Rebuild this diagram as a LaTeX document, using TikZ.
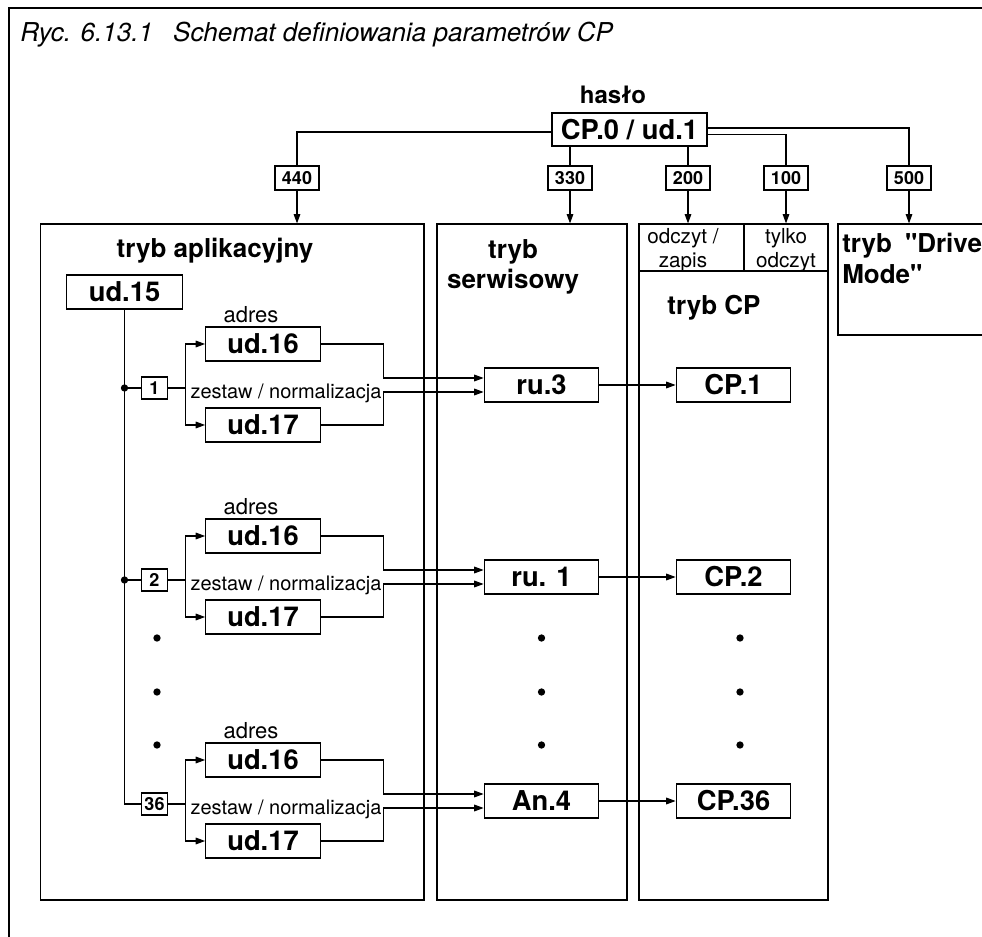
\documentclass[tikz,border=0pt]{standalone}
\usepackage{fontspec}
\setmainfont{TeX Gyre Heros}[Ligatures=TeXOff]
\usetikzlibrary{arrows.meta}

\begin{document}
\begin{tikzpicture}[x=0.75pt, y=-0.75pt,
  wire/.style={line width=0.8pt},
  arr/.style={wire, -{Triangle[length=7pt,width=5pt]}},
  modebox/.style={draw, line width=0.9pt, inner sep=0, minimum height=507pt},
  pbox/.style={draw, line width=0.9pt, fill=white, inner sep=0, minimum width=86pt,
               minimum height=25.5pt, font=\bfseries\fontsize{20.5}{24}\selectfont},
  code/.style={draw, line width=0.9pt, fill=white, inner sep=0, minimum width=33pt,
               minimum height=18pt, font=\bfseries\fontsize{13.5}{16}\selectfont},
  nbox/.style={draw, line width=0.9pt, fill=white, inner sep=0, minimum width=20pt,
               minimum height=16.5pt, font=\bfseries\fontsize{13.5}{15}\selectfont},
  modehead/.style={font=\bfseries\fontsize{19.5}{23}\selectfont, align=center, inner sep=0},
  note/.style={font=\fontsize{15}{18}\selectfont, inner sep=0},
  addr/.style={font=\fontsize{16.5}{18}\selectfont, inner sep=0},
  cell/.style={font=\fontsize{15.5}{18}\selectfont, align=center, inner sep=0},
  jdot/.style={circle, fill, inner sep=0, minimum size=5.5pt},
]
\useasboundingbox (0,0) rectangle (982,937);
\clip (0,0) rectangle (982,937);
\draw[line width=2pt] (9,1000) -- (9,8) -- (1000,8);
\node[font=\itshape\fontsize{19.5}{24}\selectfont, anchor=base west, inner sep=0] (title) at (20,42)
  {Ryc. 6.13.1\enspace\ Schemat definiowania parametrów CP};

% password and codes
\node[font=\bfseries\fontsize{18}{21}\selectfont] (haslo) at (613,95) {hasło};
\node[pbox, minimum width=116.25pt, minimum height=24.75pt] (cp0) at (629.5,129.5) {CP.0 / ud.1};
\node[code] (l440) at (297,178) {440};
\node[code] (l330) at (570,178) {330};
\node[code] (l200) at (688,178) {200};
\node[code] (l100) at (786,178) {100};
\node[code] (l500) at (909,178) {500};

% modes
\node[modebox, minimum width=287.5pt] (app) at (232.35,562) {};
\node[modebox, minimum width=142.5pt] (serv) at (532,562) {};
\node[modebox, minimum width=141.75pt] (cpm) at (733.5,562) {};
\node[draw, line width=0.9pt, inner sep=0, minimum width=121.5pt, minimum height=83.25pt] (drive) at (919,279.5) {};
\draw[line width=0.9pt] (cpm.west |- 0,271) -- (cpm.east |- 0,271);
\draw[line width=0.9pt] (744,224) -- (744,271);
\node[modehead] (happ) at (215,251) {tryb aplikacyjny};
\node[modehead] (hserv) at (513,267) {tryb\\serwisowy};
\node[modehead] (hcp) at (714,308) {tryb CP};
\node[modehead, align=left, anchor=north west] (hdrive) at (842,233)
  {tryb\enspace"Drive\\Mode"};
\node[cell] (rw) at (683,250) {odczyt /\\zapis};
\node[cell] (ro) at (786,250) {tylko\\odczyt};

\draw[wire] ([yshift=-1.9pt]cp0.west) -| (l440);
\draw[wire] ([yshift=1.1pt]cp0.east) -| (l500);
\draw[wire] ([yshift=-4.1pt]cp0.east) -| (l100);
\draw[wire] (l330 |- cp0.south) -- (l330);
\draw[wire] (l200 |- cp0.south) -- (l200);
\draw[arr] (l440) -- (l440 |- app.north);
\draw[arr] (l330) -- (l330 |- serv.north);
\draw[arr] (l200) -- (l200 |- cpm.north);
\draw[arr] (l100) -- (l100 |- cpm.north);
\draw[arr] (l500) -- (l500 |- drive.north);

% parameters
\node[pbox, minimum width=87pt] (ud15) at (124.5,292) {ud.15};

\node[nbox] (n1) at (154.5,388) {1};
\node[addr] (adr1) at (251,315) {adres};
\node[pbox] (ua1) at (263,344) {ud.16};
\node[note] (zes1) at (286,393) {zestaw / normalizacja};
\node[pbox] (ub1) at (263,425) {ud.17};
\node[pbox] (ru1) at (541.5,385) {ru.3};
\node[pbox] (cp1) at (733.5,385) {CP.1};

\node[nbox] (n2) at (154.5,580) {2};
\node[addr] (adr2) at (251,507) {adres};
\node[pbox] (ua2) at (263,536) {ud.16};
\node[note] (zes2) at (286,585) {zestaw / normalizacja};
\node[pbox] (ub2) at (263,617) {ud.17};
\node[pbox] (ru2) at (541.5,577) {ru. 1};
\node[pbox] (cp2) at (733.5,577) {CP.2};

\node[nbox] (n36) at (154.5,804) {36};
\node[addr] (adr3) at (251,731) {adres};
\node[pbox] (ua3) at (263,760) {ud.16};
\node[note] (zes3) at (286,809) {zestaw / normalizacja};
\node[pbox] (ub3) at (263,841) {ud.17};
\node[pbox] (ru3) at (541.5,801) {An.4};
\node[pbox] (cp3) at (733.5,801) {CP.36};

\node[jdot] (da1) at (157,638) {};
\node[jdot] (da2) at (157,692) {};
\node[jdot] (da3) at (157,745) {};
\node[jdot] (db1) at (541.5,638) {};
\node[jdot] (db2) at (541.5,692) {};
\node[jdot] (db3) at (541.5,745) {};
\node[jdot] (dc1) at (740,638) {};
\node[jdot] (dc2) at (740,692) {};
\node[jdot] (dc3) at (740,745) {};

% wiring
\node[jdot] (j1) at (ud15 |- n1) {};
\node[jdot] (j2) at (ud15 |- n2) {};
\draw[wire] (ud15) -- (ud15 |- n36) -- (n36);
\draw[wire] (j1) -- (n1);
\draw[wire] (j2) -- (n2);

\draw[arr] (n1.east) -- ++(12.75pt,0) |- (ua1);
\draw[arr] (n1.east) -- ++(12.75pt,0) |- (ub1);
\draw[arr] (ua1.east) -- ++(47.25pt,0) |- ([yshift=5.25pt]ru1.west);
\draw[arr] (ub1.east) -- ++(47.25pt,0) |- ([yshift=-5.25pt]ru1.west);
\draw[arr] (ru1) -- (cp1);

\draw[arr] (n2.east) -- ++(12.75pt,0) |- (ua2);
\draw[arr] (n2.east) -- ++(12.75pt,0) |- (ub2);
\draw[arr] (ua2.east) -- ++(47.25pt,0) |- ([yshift=5.25pt]ru2.west);
\draw[arr] (ub2.east) -- ++(47.25pt,0) |- ([yshift=-5.25pt]ru2.west);
\draw[arr] (ru2) -- (cp2);

\draw[arr] (n36.east) -- ++(12.75pt,0) |- (ua3);
\draw[arr] (n36.east) -- ++(12.75pt,0) |- (ub3);
\draw[arr] (ua3.east) -- ++(47.25pt,0) |- ([yshift=5.25pt]ru3.west);
\draw[arr] (ub3.east) -- ++(47.25pt,0) |- ([yshift=-5.25pt]ru3.west);
\draw[arr] (ru3) -- (cp3);
\end{tikzpicture}
\end{document}
